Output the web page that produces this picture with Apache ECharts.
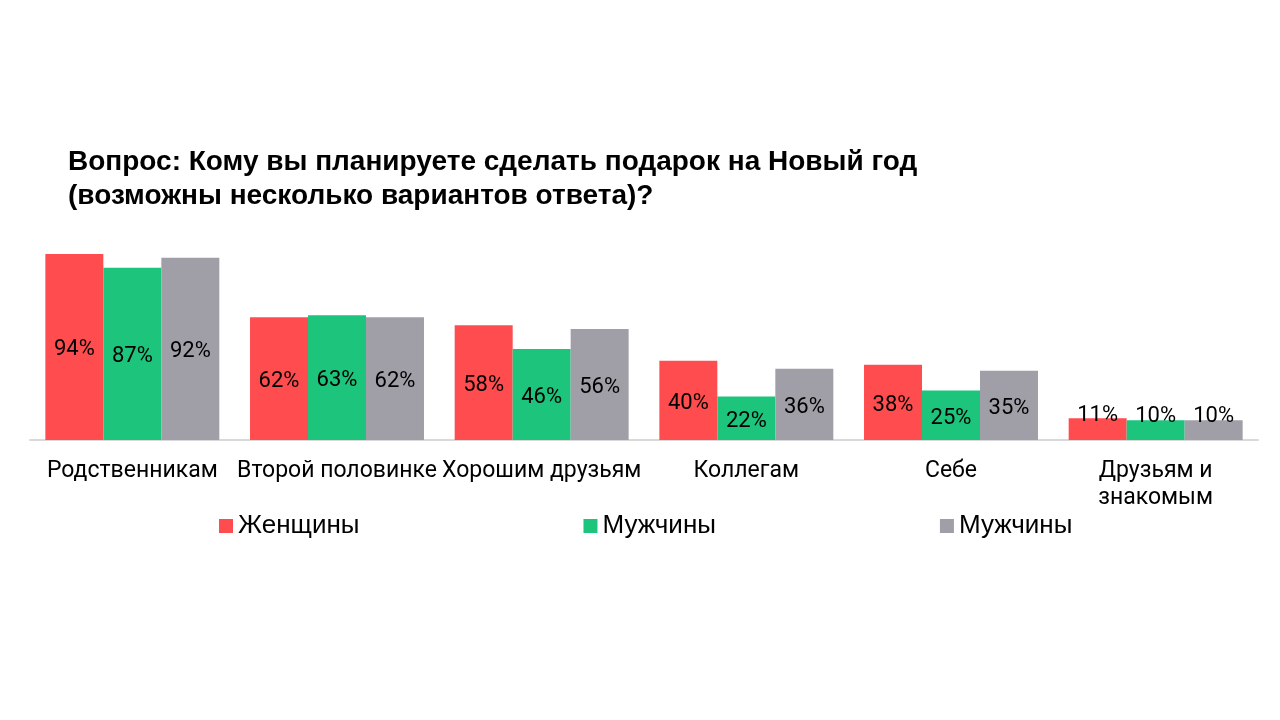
<!DOCTYPE html>
<html>
<head>
<meta charset="utf-8">
<title>Кому вы планируете сделать подарок на Новый год</title>
<script src="https://cdn.jsdelivr.net/npm/echarts@6/dist/echarts.min.js"></script>
<style>
    html, body { margin: 0; padding: 0; background: #fff; }
    #chart { width: 1280px; height: 720px; }
</style>
</head>
<body>
<div id="chart"></div>
<script>
// Данные опроса
var categories = ['Родственникам', 'Второй половинке', 'Хорошим друзьям', 'Коллегам', 'Себе', 'Друзьям и\nзнакомым'];
var women = [94, 62, 58, 40, 38, 11];
var men = [87, 63, 46, 22, 25, 10];
var men2 = [92, 62, 56, 36, 35, 10];
var seriesKeys = ['women', 'men', 'men2'];
var seriesLabels = {women: 'Женщины', men: 'Мужчины', men2: 'Мужчины'};
var colors = ['#ff4d4f', '#1dc47c', '#a09fa8'];

var myChart = echarts.init(document.getElementById('chart'));

function makeSeries(key, data, color) {
    // у низких столбиков подпись поднимается над серединой
    var items = data.map(function (v) {
        return v < 15 ? { value: v, label: { offset: [0, -14] } } : v;
    });
    return {
        name: key,
        type: 'bar',
        data: items,
        barGap: '0%',
        barCategoryGap: '15%',
        itemStyle: { color: color },
        label: {
            show: true,
            position: 'inside',
            offset: [0, 3],
            formatter: '{c}%',
            color: '#000',
            fontFamily: 'Roboto',
            fontSize: 22
        }
    };
}

var option = {
    backgroundColor: '#fff',
    animation: false,
    title: {
        text: 'Вопрос: Кому вы планируете сделать подарок на Новый год\n(возможны несколько вариантов ответа)?',
        left: 63,
        top: 140,
        textStyle: {
            fontFamily: 'Liberation Sans',
            fontWeight: 'bold',
            fontSize: 28,
            lineHeight: 34,
            color: '#000'
        }
    },
    legend: {
        data: seriesKeys,
        left: 214,
        top: 508,
        itemWidth: 14,
        itemHeight: 14,
        itemGap: 224,
        icon: 'rect',
        formatter: function (name) { return seriesLabels[name]; },
        textStyle: {
            fontFamily: 'Liberation Sans',
            fontSize: 26,
            color: '#000'
        }
    },
    grid: {
        left: 30,
        right: 22,
        top: 242,
        bottom: 280
    },
    xAxis: {
        type: 'category',
        data: categories,
        axisLine: { lineStyle: { color: '#d9d9d9', width: 2 } },
        axisTick: { show: false },
        axisLabel: {
            interval: 0,
            margin: 18,
            fontFamily: 'Roboto',
            fontSize: 23,
            lineHeight: 27,
            color: '#000'
        }
    },
    yAxis: {
        type: 'value',
        min: 0,
        max: 100,
        show: false,
        splitLine: { show: false }
    },
    series: [
        makeSeries('women', women, colors[0]),
        makeSeries('men', men, colors[1]),
        makeSeries('men2', men2, colors[2])
    ]
};
myChart.setOption(option);
</script>
</body>
</html>
